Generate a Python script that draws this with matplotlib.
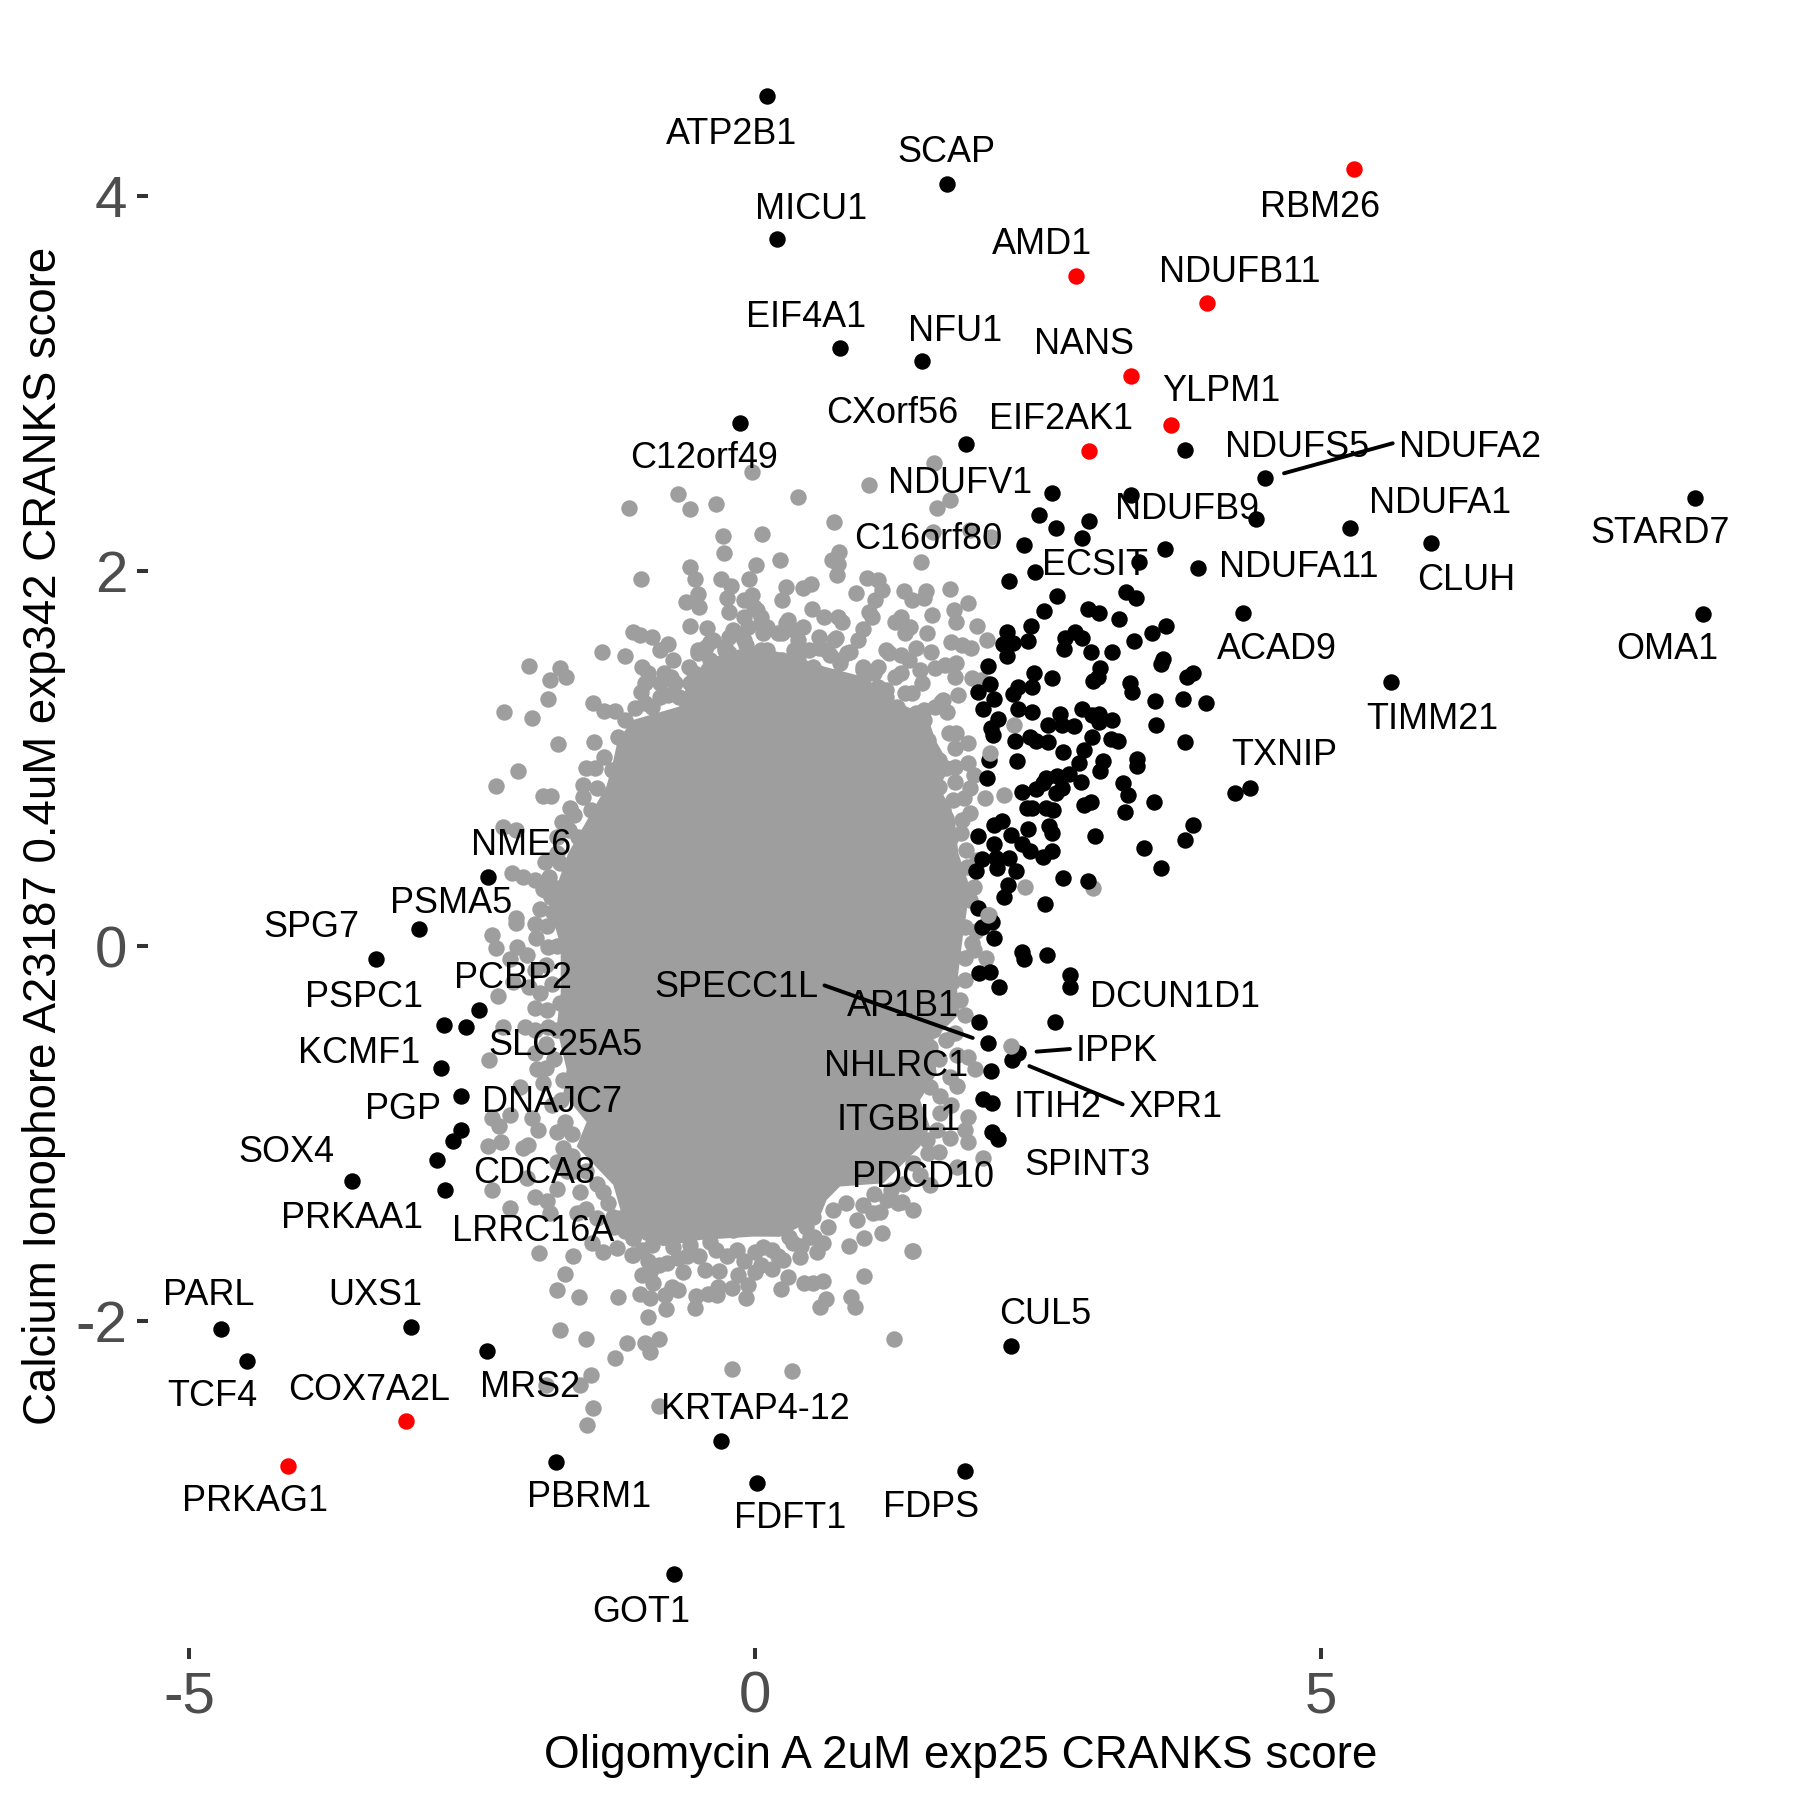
"""CRANKS score scatter: Oligomycin A vs Calcium Ionophore A23187."""
import matplotlib
matplotlib.use("Agg")
import matplotlib.pyplot as plt

plt.rcParams["font.family"] = ["Liberation Sans", "DejaVu Sans"]

# outline of the saturated middle of the cloud, where single points can't be told apart
core_x = [-1.655, -1.317, -1.267, -1.216, -1.081, -0.675, -0.607, -0.438, -0.066, 0.271, 0.610, 0.948, 1.218,
          1.522, 1.590, 1.725, 1.624, 1.759, 1.793, 1.894, 1.860, 1.836, 1.778, 1.807, 1.571, 1.601, 1.454,
          1.542, 1.454, 1.130, 0.747, 0.629, 0.570, 0.217, -0.019, -0.490, -0.814, -0.990, -1.167, -1.255,
          -1.579, -1.491, -1.697, -1.668, -1.756, -1.720, -1.720, -1.800, -1.760]
core_y = [0.494, 0.850, 0.956, 1.098, 1.205, 1.276, 1.383, 1.525, 1.596, 1.560, 1.489, 1.436, 1.311,
          1.223, 1.098, 0.956, 0.850, 0.690, 0.494, 0.316, 0.157, 0.067, -0.217, -0.359, -0.501, -0.679, -0.821,
          -0.963, -1.070, -1.265, -1.282, -1.354, -1.442, -1.550, -1.549, -1.567, -1.600, -1.567, -1.460, -1.274,
          -1.069, -0.938, -0.788, -0.658, -0.433, -0.250, 0.000, 0.165, 0.310]

grey_top = [
    (-0.026, 2.525), (1.580, 2.573), (1.000, 2.458), (0.380, 2.395), (-0.685, 2.408), (-0.574, 2.328),
    (-0.344, 2.356), (-1.115, 2.337), (1.715, 2.378), (1.600, 2.337), (0.698, 2.259), (-0.283, 2.186),
    (0.059, 2.196), (-0.273, 2.095), (1.573, 2.209), (1.894, 2.218), (2.080, 2.182), (1.462, 2.045),
    (0.735, 2.099), (0.677, 2.058), (0.728, 2.036), (0.718, 1.976), (0.221, 2.058), (0.008, 2.029),
    (-0.574, 2.019), (-0.530, 1.955), (-1.013, 1.956), (-0.303, 1.956), (-0.219, 1.921), (-0.252, 1.857),
    (-0.053, 1.956), (0.271, 1.916), (0.238, 1.845), (0.424, 1.907), (0.491, 1.930), (0.988, 1.960),
    (1.083, 1.951), (1.117, 1.898), (1.056, 1.845), (0.887, 1.880), (1.309, 1.894), (1.380, 1.845),
    (1.505, 1.894), (1.489, 1.853), (1.718, 1.905), (1.881, 1.827), (-0.506, 1.877), (-0.614, 1.836),
    (-0.499, 1.809), (-0.100, 1.845), (-0.026, 1.871), (0.501, 1.797), (1.000, 1.782), (1.032, 1.756),
    (1.556, 1.765), (1.752, 1.791), (1.769, 1.729), (-0.236, 1.779), (0.018, 1.791), (0.610, 1.756),
    (0.728, 1.756), (0.762, 1.729), (1.286, 1.756), (1.235, 1.729), (1.370, 1.702), (1.955, 1.706),
    (-0.574, 1.706), (-0.432, 1.697), (0.052, 1.720), (0.069, 1.667), (0.271, 1.720), (0.339, 1.685),
    (0.424, 1.702), (0.238, 1.667), (-0.202, 1.685), (0.559, 1.649), (0.559, 1.587), (0.711, 1.640),
    (0.948, 1.688), (0.907, 1.631), (1.320, 1.667), (1.516, 1.667), (-1.081, 1.672), (-1.023, 1.658),
    (-0.912, 1.646), (2.046, 1.631), (1.725, 1.622), (1.827, 1.605), (1.901, 1.587), (-0.776, 1.610),
    (-0.844, 1.578), (-0.726, 1.525), (-1.358, 1.565), (-1.148, 1.546), (-0.405, 1.622), (-0.506, 1.578),
    (-0.269, 1.578), (-0.083, 1.604), (0.052, 1.578), (0.339, 1.578), (0.840, 1.569), (0.660, 1.551),
    (1.150, 1.578), (1.286, 1.551), (1.421, 1.587), (1.549, 1.566), (-1.006, 1.486), (-0.743, 1.436),
    (-1.013, 1.356), (-0.776, 1.338), (-1.064, 1.267), (-0.591, 1.489), (-0.506, 1.329), (1.590, 1.480),
    (1.674, 1.498), (1.776, 1.507), (1.759, 1.436), (1.235, 1.436), (1.387, 1.347), (1.472, 1.400),
    (1.083, 1.489), (0.948, 1.471), (1.911, 1.427), (1.996, 1.418), (1.793, 1.338), (1.641, 1.303),
    (1.691, 1.249), (-0.405, 1.436), (-0.236, 1.489), (-0.066, 1.525), (0.136, 1.480), (0.373, 1.525),
    (0.508, 1.454), (0.745, 1.507), (1.083, 1.383), (1.150, 1.329), (0.812, 1.400), (0.271, 1.418),
    (-0.066, 1.400), (-0.574, 1.400), (-0.405, 1.525), (-0.236, 1.560), (1.421, 1.240), (1.252, 1.276),
    (1.489, 1.205), (-0.912, 1.276), (-1.148, 1.205), (-1.216, 1.116), (-1.098, 1.098),
    (-0.100, 1.756), (-0.016, 1.809), (0.052, 1.756), (0.103, 1.702), (-0.066, 1.702), (-0.185, 1.667),
    (-0.236, 1.649), (-0.371, 1.631), (-0.438, 1.596), (-0.506, 1.560), (-0.269, 1.596), (-0.100, 1.631),
    (0.103, 1.578), (0.204, 1.667), (0.288, 1.738), (0.373, 1.631), (0.474, 1.578), (0.238, 1.525),
    (0.373, 1.471), (0.508, 1.489), (0.626, 1.578), (0.694, 1.631), (0.812, 1.560), (0.745, 1.525),
    (0.948, 1.489), (1.049, 1.454), (0.948, 1.400), (1.150, 1.365), (1.320, 1.347), (1.083, 1.347),
    (1.286, 1.454), (1.353, 1.525), (1.455, 1.471), (1.184, 1.560), (-0.540, 1.454), (-0.371, 1.489),
    (-0.269, 1.525), (-0.202, 1.454), (0.035, 1.489), (0.170, 1.489), (0.542, 1.400), (0.711, 1.436),
    (0.846, 1.383), (-0.844, 1.400), (-0.979, 1.400), (-0.945, 1.454), (-0.810, 1.454), (-0.709, 1.400),
    (-0.844, 1.329), (-0.979, 1.294), (-0.675, 1.329), (1.590, 1.276), (1.489, 1.258), (1.658, 1.311),
]
grey_left = [
    (-2.004, 1.494), (-1.723, 1.480), (-1.669, 1.436), (-1.814, 1.416), (-1.835, 1.315), (-2.223, 1.246),
    (-1.973, 1.217), (-1.743, 1.077), (-1.426, 1.088), (-2.095, 0.935), (-2.294, 0.855), (-1.875, 0.802),
    (-1.808, 0.802), (-1.436, 1.294), (-1.341, 1.255), (-1.243, 1.255), (-1.334, 1.009), (-1.267, 0.938),
    (-1.520, 0.858), (-1.402, 0.841), (-1.520, 0.796), (-1.638, 0.734), (-1.706, 0.663), (-1.453, 0.725),
    (-1.419, 0.618), (-1.571, 0.583), (-1.757, 0.494), (-1.858, 0.450), (-1.554, 0.494), (-1.723, 0.441),
    (-1.824, 0.370), (-2.146, 0.388), (-2.054, 0.366), (-1.875, 0.302), (-1.740, 0.308), (-1.808, 0.263),
    (-1.622, 0.343), (-1.791, 0.183), (-2.112, 0.148), (-2.230, 0.636), (-2.112, 0.618), (-2.115, 0.124),
    (-2.324, 0.057), (-2.295, -0.013), (-1.859, 0.296), (-1.785, 0.184), (-1.844, 0.109), (-1.939, 0.044),
    (-1.830, -0.003), (-2.109, -0.003), (-2.168, -0.069), (-2.021, -0.050), (-2.271, -0.265), (-2.139, -0.190),
    (-1.947, -0.330), (-1.844, -0.340), (-1.727, -0.302), (-2.227, -0.433), (-2.036, -0.433), (-1.830, -0.433),
    (-2.354, -0.607), (-1.933, -0.658), (-1.697, -0.714), (-2.080, -0.751), (-1.874, -0.732), (-2.330, -0.919),
    (-2.262, -0.957), (-2.168, -0.901), (-1.977, -0.919), (-1.918, -0.979), (-1.756, -0.994), (-1.682, -0.938),
    (-1.697, -1.078), (-2.360, -1.065), (-2.248, -1.046), (-2.050, -1.078), (-2.006, -1.059), (-2.324, -1.303),
    (-1.947, -1.340), (-1.844, -1.359), (-1.756, -1.293), (-2.168, -1.396), (-2.021, -1.237), (-1.550, -1.312),
    (-1.344, -1.312), (-1.668, -1.200), (-1.815, -1.424), (-1.579, -1.424), (-1.255, -1.443),
    (-1.95, 0.35), (-1.90, 0.20), (-1.95, 0.12), (-1.75, 0.58), (-1.65, 0.62), (-1.60, 0.70), (-1.50, 0.95),
    (-1.42, 0.95), (-1.75, 0.00), (-1.85, -0.10), (-1.95, -0.13), (-1.80, -0.20), (-2.00, -0.22), (-1.90, -0.25),
    (-1.75, -0.45), (-1.95, -0.45), (-1.85, -0.52), (-1.78, -0.60), (-1.95, -0.57), (-1.72, -0.82), (-1.80, -0.85),
    (-1.85, -0.65), (-1.62, -1.00), (-1.62, -1.12), (-1.75, -1.15), (-1.60, -1.20), (-1.50, -1.20), (-1.40, -1.27),
    (-1.30, -1.37), (-1.40, -1.45), (-1.50, -1.40), (-1.25, -1.50), (-1.15, -1.52),
]
grey_right = [
    (1.708, 1.137), (1.776, 1.137), (1.759, 1.054), (1.877, 1.080), (2.283, 1.178), (2.029, 0.787),
    (2.198, 0.805), (1.387, 1.116), (1.522, 1.098), (1.624, 0.992), (1.387, 0.974), (1.759, 0.956),
    (1.877, 0.974), (1.928, 0.912), (1.759, 0.876), (1.624, 0.850), (1.894, 0.841), (1.844, 0.787),
    (1.658, 0.725), (1.894, 0.707), (1.590, 0.636), (1.827, 0.672), (1.725, 0.583), (1.556, 0.512),
    (1.860, 0.512), (1.962, 0.458), (1.793, 0.405), (1.928, 0.316), (1.759, 0.281), (1.894, 0.245),
    (2.063, 0.165), (2.384, 0.316), (2.979, 0.308), (1.910, 0.014), (1.851, -0.066), (2.037, -0.066),
    (1.660, -0.110), (1.733, -0.190), (1.601, -0.235), (1.807, -0.288), (1.851, -0.368), (1.571, -0.448),
    (1.763, -0.466), (1.542, -0.537), (1.881, -0.590), (1.940, -0.658), (1.719, -0.697), (1.783, -0.746),
    (1.542, -0.750), (1.630, -0.892), (1.881, -0.913), (1.851, -0.981), (1.719, -1.025), (1.881, -1.043),
    (1.513, -1.034), (1.527, -1.105), (2.007, -1.132), (1.778, -1.176), (1.542, -1.274), (1.395, -1.159),
    (1.395, -1.407), (1.292, -1.363), (1.389, -1.626),
    (1.68, 0.95), (1.75, 0.78), (1.82, 0.60), (1.87, 0.42), (1.85, 0.10), (1.95, 0.08), (1.93, -0.02), (1.75, -0.05),
    (1.85, -0.18), (1.72, -0.30), (1.68, -0.50), (1.78, -0.58), (1.62, -0.60), (1.63, -0.80), (1.73, -0.85),
    (1.60, -0.98), (1.62, -1.10), (1.45, -1.22), (1.30, -1.27), (1.20, -1.30), (1.05, -1.32), (0.95, -1.38),
    (1.10, -1.42),
]
grey_bottom = [
    (-1.447, -1.583), (-1.344, -1.630), (-1.226, -1.611), (-1.079, -1.555), (-1.088, -1.645), (-1.912, -1.635),
    (-1.615, -1.654), (-1.682, -1.746), (-1.753, -1.835), (-1.556, -1.873), (-1.214, -1.873), (-1.724, -2.047),
    (-1.494, -2.097), (-1.135, -2.116), (-1.244, -2.196), (-0.976, -2.116), (-0.852, -2.097), (-0.932, -2.166),
    (-1.456, -2.288), (-1.550, -2.340), (-1.432, -2.465), (-1.491, -2.551), (-0.946, -1.976), (-1.853, -2.340),
    (-1.005, -1.753), (-0.931, -1.736), (-0.902, -1.798), (-1.020, -1.855), (-0.931, -1.878), (-0.799, -1.860),
    (-0.740, -1.815), (-0.681, -1.833), (-0.793, -1.936), (-0.534, -1.927), (-0.525, -1.863), (-0.416, -1.855),
    (-0.328, -1.815), (-0.342, -1.860), (-0.210, -1.824), (-0.151, -1.753), (-0.063, -1.807), (-0.086, -1.878),
    (-0.445, -1.727), (-0.319, -1.730), (-0.004, -1.736), (0.144, -1.723), (0.291, -1.766), (0.226, -1.826),
    (0.429, -1.798), (0.512, -1.798), (0.600, -1.785), (0.621, -1.881), (0.570, -1.926), (0.844, -1.872),
    (0.880, -1.926), (0.959, -1.757), (1.386, -1.625), (1.115, -1.528), (0.959, -1.558), (0.827, -1.597),
    (0.541, -1.629), (0.600, -1.585), (0.394, -1.659), (0.241, -1.673), (0.070, -1.602), (-0.166, -1.620),
    (-0.401, -1.576), (-0.637, -1.736), (-0.681, -1.664), (-0.784, -1.691), (-0.917, -1.593), (-0.725, -1.602),
    (-1.079, -1.647), (-1.079, -1.558), (-1.196, -1.451), (-0.578, -1.593), (0.644, -1.499), (0.482, -1.549),
    (0.335, -1.585), (0.894, -1.460), (1.042, -1.425), (0.800, -1.371), (1.159, -1.354), (1.263, -1.368),
    (-0.931, -1.496), (-0.637, -1.478), (-0.431, -1.478), (-0.195, -1.513), (0.011, -1.496), (0.276, -1.478),
    (0.512, -1.442), (0.688, -1.407), (1.227, -2.096), (-0.204, -2.256), (0.326, -2.267), (-0.852, -2.450),
    (0.45, -1.50), (0.30, -1.55), (0.15, -1.62), (0.00, -1.63), (-0.10, -1.68), (-0.25, -1.65), (-0.35, -1.62),
    (-0.50, -1.65), (-0.60, -1.65), (-0.85, -1.70), (-0.95, -1.68), (-1.00, -1.62), (0.05, -1.70), (0.20, -1.65),
    (0.40, -1.60), (0.52, -1.55),
]
# these few sit over the black points in the reference
grey_over = [(2.070, 1.031), (2.258, -0.532), (2.057, 0.165)]

black_hits = [
    (0.10, 4.53), (1.69, 4.06), (0.19, 3.77), (0.75, 3.19), (1.47, 3.12), (-0.14, 2.79), (1.857, 2.678),
    (3.795, 2.646), (4.498, 2.497), (2.617, 2.417), (3.318, 2.406), (2.508, 2.296), (2.658, 2.227),
    (2.950, 2.267), (2.888, 2.177), (4.419, 2.278), (5.249, 2.227), (2.369, 2.136), (3.618, 2.116),
    (2.467, 1.996), (2.237, 1.946), (3.385, 2.045), (3.909, 2.017), (2.667, 1.866), (3.271, 1.887),
    (3.359, 1.855), (2.549, 1.786), (2.938, 1.797), (3.038, 1.775), (3.212, 1.743), (4.310, 1.775),
    (2.437, 1.706), (3.627, 1.706), (3.506, 1.667), (2.219, 1.672), (2.184, 1.610), (2.278, 1.617),
    (2.408, 1.628), (2.225, 1.544), (2.735, 1.642), (2.826, 1.674), (2.882, 1.644), (2.726, 1.582),
    (2.967, 1.566), (3.150, 1.566), (3.347, 1.626), (2.057, 1.494), (3.044, 1.482), (3.603, 1.530),
    (3.580, 1.503), (2.458, 1.457), (2.979, 1.415), (3.029, 1.436), (2.617, 1.427), (3.862, 1.454),
    (3.809, 1.432), (3.309, 1.400), (3.329, 1.354), (2.072, 1.395), (1.969, 1.356), (2.110, 1.315),
    (2.007, 1.262), (2.322, 1.379), (2.278, 1.343), (2.446, 1.383), (3.530, 1.306), (3.780, 1.315),
    (3.977, 1.295), (5.617, 1.406), (2.316, 1.265), (2.440, 1.246), (2.888, 1.265), (2.690, 1.237),
    (2.587, 1.180), (2.711, 1.180), (2.817, 1.175), (2.970, 1.232), (3.035, 1.237), (3.035, 1.196),
    (3.150, 1.205), (3.539, 1.176), (2.140, 1.208), (2.078, 1.160), (2.099, 1.123), (2.290, 1.095),
    (2.425, 1.116), (2.475, 1.095), (2.587, 1.086), (2.976, 1.114), (3.141, 1.105), (3.203, 1.095),
    (3.798, 1.086), (2.717, 1.036), (2.905, 1.047), (2.066, 0.992), (2.308, 0.986), (3.067, 0.988),
    (2.858, 0.976), (3.368, 0.995), (3.368, 0.960), (3.047, 0.935), (2.770, 0.915), (2.661, 0.906),
    (2.564, 0.894), (2.048, 0.894), (2.537, 0.867), (2.879, 0.876), (3.247, 0.867), (2.476, 0.837),
    (2.352, 0.823), (2.705, 0.841), (2.652, 0.814), (3.288, 0.803), (4.239, 0.816), (4.369, 0.844),
    (3.521, 0.766), (2.961, 0.766), (2.905, 0.752), (2.396, 0.738), (2.446, 0.734), (2.564, 0.738),
    (2.632, 0.725), (3.268, 0.714), (3.868, 0.645), (2.175, 0.668), (2.110, 0.643), (2.411, 0.626),
    (2.593, 0.640), (2.620, 0.601), (2.258, 0.594), (1.969, 0.585), (3.000, 0.585), (3.798, 0.565),
    (2.107, 0.544), (2.358, 0.544), (2.425, 0.506), (3.430, 0.524), (2.617, 0.505), (2.537, 0.473),
    (1.998, 0.462), (2.125, 0.467), (2.243, 0.467), (1.945, 0.402), (2.131, 0.414), (2.302, 0.402),
    (3.580, 0.414), (2.720, 0.364), (2.938, 0.345), (2.234, 0.325), (2.199, 0.263), (2.558, 0.224),
    (1.969, 0.205), (2.004, 0.103), (2.087, 0.130), (2.110, 0.044), (2.352, -0.030), (2.372, -0.070),
    (2.579, -0.046), (2.779, -0.155), (2.779, -0.217), (1.978, -0.146), (2.072, -0.137), (2.149, -0.217),
    (1.978, -0.407), (2.646, -0.407), (2.057, -0.515), (2.322, -0.569), (2.269, -0.608), (2.078, -0.667),
    (2.007, -0.816), (2.093, -0.839), (2.087, -0.993), (2.140, -1.029),
    (8.30, 2.39), (5.97, 2.15), (8.37, 1.77),
    (-2.36, 0.37), (-2.97, 0.09), (-3.35, -0.07), (-2.75, -0.42), (-2.56, -0.43), (-2.44, -0.34),
    (-2.78, -0.65), (-2.60, -0.80), (-2.60, -0.98), (-2.67, -1.04), (-2.81, -1.14), (-2.74, -1.30),
    (-3.56, -1.25), (-4.72, -2.04), (-4.49, -2.21), (-3.04, -2.03), (-2.37, -2.16), (-1.76, -2.75),
    (-0.30, -2.64), (0.01, -2.86), (1.85, -2.80), (-0.72, -3.35), (2.26, -2.13),
]
red_x = [5.29, 2.83, 3.99, 3.32, 3.67, 2.95, -3.09, -4.13]
red_y = [4.14, 3.57, 3.43, 3.04, 2.78, 2.64, -2.53, -2.77]

gene_labels = [
    ("ATP2B1", -0.21, 4.34), ("SCAP", 1.69, 4.24), ("RBM26", 4.99, 3.95), ("MICU1", 0.49, 3.94),
    ("AMD1", 2.53, 3.75), ("NDUFB11", 4.28, 3.60), ("EIF4A1", 0.45, 3.36), ("NFU1", 1.76, 3.29),
    ("NANS", 2.90, 3.22), ("YLPM1", 4.12, 2.97), ("CXorf56", 1.21, 2.85), ("EIF2AK1", 2.70, 2.82),
    ("C12orf49", -0.45, 2.61), ("NDUFS5", 4.79, 2.67), ("NDUFA2", 6.31, 2.67), ("NDUFV1", 1.81, 2.48),
    ("NDUFA1", 6.05, 2.37), ("NDUFB9", 3.81, 2.34), ("STARD7", 7.99, 2.21), ("C16orf80", 1.53, 2.18),
    ("ECSIT", 3.00, 2.04), ("NDUFA11", 4.80, 2.03), ("CLUH", 6.28, 1.96), ("ACAD9", 4.61, 1.59),
    ("OMA1", 8.06, 1.59), ("TIMM21", 5.98, 1.22), ("TXNIP", 4.67, 1.03), ("NME6", -2.07, 0.55),
    ("PSMA5", -2.69, 0.24), ("SPG7", -3.92, 0.11), ("PSPC1", -3.46, -0.26), ("PCBP2", -2.14, -0.16),
    ("SPECC1L", -0.17, -0.21), ("DCUN1D1", 3.71, -0.26), ("AP1B1", 1.30, -0.31), ("SLC25A5", -1.68, -0.52),
    ("KCMF1", -3.50, -0.56), ("IPPK", 3.19, -0.55), ("NHLRC1", 1.24, -0.63), ("DNAJC7", -1.80, -0.82),
    ("PGP", -3.11, -0.86), ("ITIH2", 2.67, -0.85), ("XPR1", 3.71, -0.85), ("ITGBL1", 1.27, -0.92),
    ("SOX4", -4.14, -1.09), ("SPINT3", 2.93, -1.16), ("CDCA8", -1.95, -1.20), ("PDCD10", 1.48, -1.22),
    ("PRKAA1", -3.56, -1.44), ("LRRC16A", -1.96, -1.51), ("PARL", -4.83, -1.85), ("UXS1", -3.36, -1.85),
    ("CUL5", 2.56, -1.95), ("COX7A2L", -3.41, -2.36), ("MRS2", -1.99, -2.34), ("TCF4", -4.80, -2.39),
    ("KRTAP4-12", 0.00, -2.46), ("PRKAG1", -4.42, -2.95), ("PBRM1", -1.47, -2.93), ("FDPS", 1.55, -2.98),
    ("FDFT1", 0.31, -3.04), ("GOT1", -1.01, -3.54),
]
# repel segments: x0, y0, x1, y1
segments = [
    (4.67, 2.52, 5.63, 2.68),
    (0.61, -0.21, 1.92, -0.49),
    (2.484, -0.563, 2.779, -0.549),
    (2.420, -0.640, 3.244, -0.844),
]

x_ticks = [-5, 0, 5]
y_ticks = [-2, 0, 2, 4]

GREY = "#9E9E9E"
DOT = 140

fig = plt.figure(figsize=(18, 18), dpi=100)
ax = fig.add_axes([148 / 1800, 152 / 1800, 1642 / 1800, 1618 / 1800])

grey_all = grey_top + grey_left + grey_right + grey_bottom
ax.fill(core_x, core_y, color=GREY, lw=0, zorder=1)
ax.scatter([p[0] for p in grey_all], [p[1] for p in grey_all], s=DOT, color=GREY, lw=0, zorder=2, clip_on=False)
ax.scatter([p[0] for p in black_hits], [p[1] for p in black_hits], s=DOT, color="black", lw=0, zorder=3, clip_on=False)
ax.scatter([p[0] for p in grey_over], [p[1] for p in grey_over], s=DOT, color=GREY, lw=0, zorder=4, clip_on=False)
ax.scatter(red_x, red_y, s=DOT, color="red", lw=0, zorder=4, clip_on=False)

for x0, y0, x1, y1 in segments:
    ax.plot([x0, x1], [y0, y1], color="black", lw=2.8, zorder=5, solid_capstyle="round")
for name, x, y in gene_labels:
    ax.annotate(name, (x, y), xytext=(0, -1.6), textcoords="offset points",
                fontsize=25.9, color="black", ha="center", va="center", zorder=6)

ax.set_xlim(-5.366, 9.140)
ax.set_ylim(-3.742, 4.883)
ax.set_xticks(x_ticks)
ax.set_yticks(y_ticks)
ax.set_xticklabels([str(t) for t in x_ticks])
ax.set_yticklabels([str(t) for t in y_ticks])
ax.tick_params(axis="both", labelsize=42, labelcolor="#4D4D4D", color="#333333", length=8, width=2.9, pad=7)
ax.tick_params(axis="x", pad=8.5)
for side in ax.spines.values():
    side.set_visible(False)

ax.set_xlabel("Oligomycin A 2uM exp25 CRANKS score", fontsize=33)
ax.set_ylabel("Calcium Ionophore A23187 0.4uM exp342 CRANKS score", fontsize=32.9)
ax.xaxis.set_label_coords(0.495, -0.053)
ax.yaxis.set_label_coords(-0.05, 0.502)

fig.savefig("out.png", dpi=100)
